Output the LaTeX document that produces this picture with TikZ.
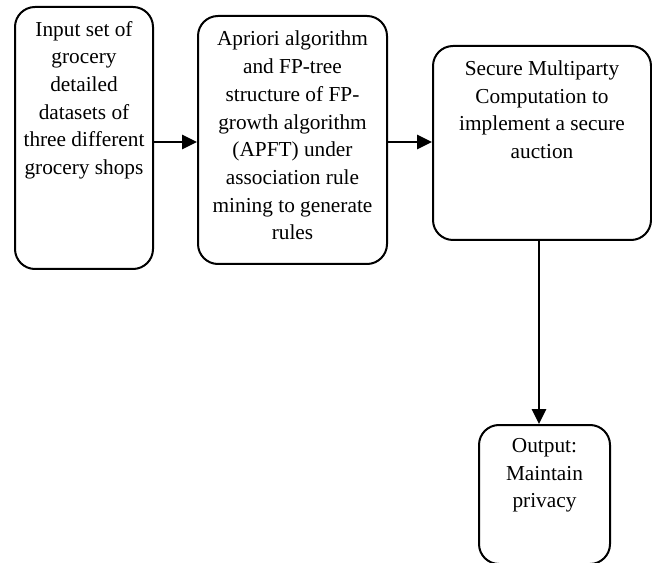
\documentclass[tikz,border=0pt]{standalone}
\usepackage{fontspec}
\setmainfont{Liberation Serif}
\usetikzlibrary{arrows.meta}
\tikzset{
  box/.style={draw, line width=2pt, rounded corners=20pt, inner sep=0pt},
  boxtext/.style={anchor=north, align=center, inner sep=0pt,
    font=\fontsize{21.3}{27.7}\selectfont},
  conn/.style={line width=2.8pt, -{Triangle[length=15pt,width=14pt]}}
}
\begin{document}
\begin{tikzpicture}[x=1pt,y=1pt]
\useasboundingbox (0,0) rectangle (652,562);
\clip (0,0) rectangle (652,562);
% boxes
\node[box, minimum width=138pt, minimum height=262pt] (b1) at (84,424) {};
\node[box, minimum width=189pt, minimum height=248pt] (b2) at (292.5,422) {};
\node[box, minimum width=218pt, minimum height=194pt] (b3) at (542,419) {};
\node[box, minimum width=131pt, minimum height=139pt] (b4) at (544.5,67.5) {};
% texts
\node[boxtext] (t1) at ([yshift=-15pt]b1.north) {Input set of\\grocery\\detailed\\datasets of\\three different\\grocery shops};
\node[boxtext] (t2) at ([yshift=-16pt]b2.north) {Apriori algorithm\\and FP-tree\\structure of FP-\\growth algorithm\\(APFT) under\\association rule\\mining to generate\\rules};
\node[boxtext] (t3) at ([yshift=-15.5pt]b3.north) {Secure Multiparty\\Computation to\\implement a secure\\auction};
\node[boxtext] (t4) at ([yshift=-14pt]b4.north) {Output:\\Maintain\\privacy};
% connector guides
\coordinate (hy) at (0,420);
\coordinate (vx) at (539,0);
% connectors
\draw[conn] (b1.east |- hy) -- (b2.west |- hy);
\draw[conn] (b2.east |- hy) -- (b3.west |- hy);
\draw[conn] (b3.south -| vx) -- (b4.north -| vx);
\end{tikzpicture}
\end{document}
